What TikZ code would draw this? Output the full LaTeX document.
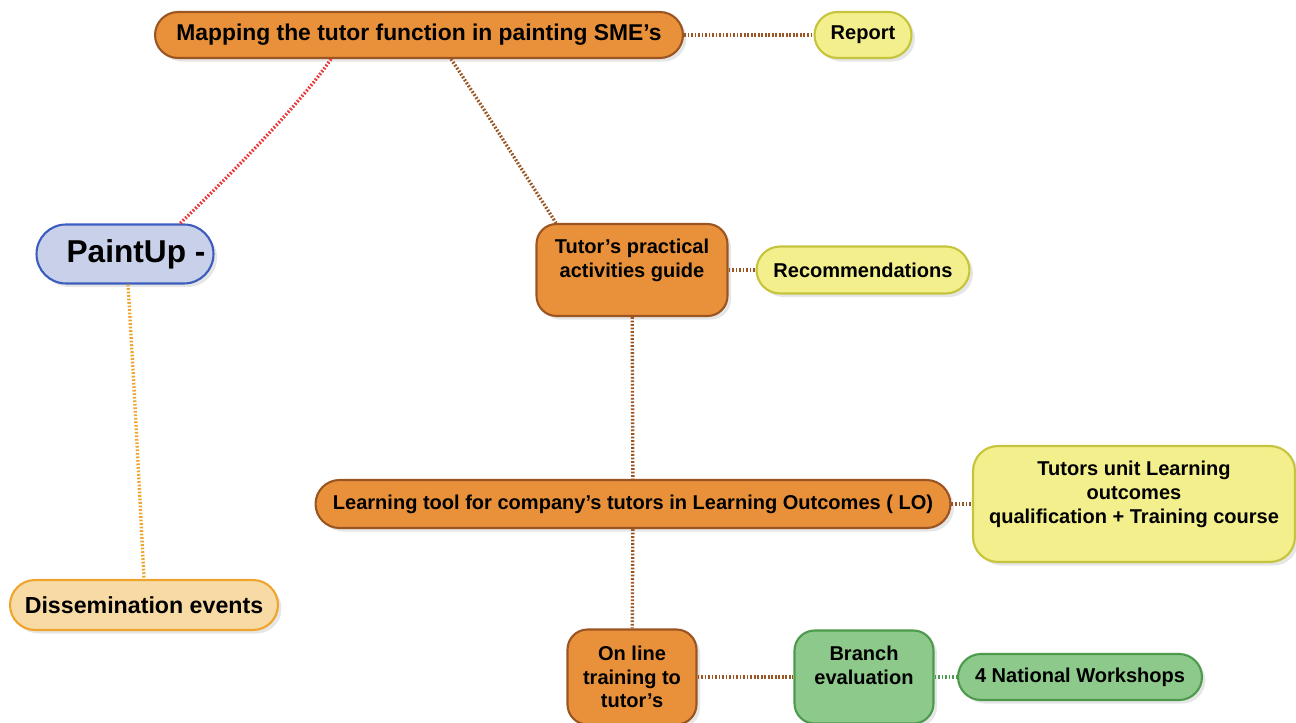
\documentclass[tikz,border=0pt]{standalone}
\usepackage{fontspec}
\setmainfont{Liberation Sans}
\usetikzlibrary{shadows}

\definecolor{orangefill}{HTML}{E8913A}
\definecolor{orangeline}{HTML}{9A5522}
\definecolor{yellowfill}{HTML}{F2EF8C}
\definecolor{yellowline}{HTML}{C6C43C}
\definecolor{greenfill}{HTML}{8DC98B}
\definecolor{greenline}{HTML}{4E9A4C}
\definecolor{bluefill}{HTML}{C8D0EA}
\definecolor{blueline}{HTML}{3D5DBE}
\definecolor{peachfill}{HTML}{F8DBA4}
\definecolor{peachline}{HTML}{EFA42E}
\definecolor{redlink}{HTML}{E8383A}

\begin{document}
\begin{tikzpicture}[x=0.02cm, y=-0.02cm, font=\fontsize{11.4}{13.4}\selectfont\bfseries]
    \tikzstyle{topic}=[draw, line width=1.2pt, align=center, inner sep=2pt,
        drop shadow={opacity=0.2, shadow xshift=2pt, shadow yshift=-2pt}]
    \tikzstyle{main topic}=[topic, fill=orangefill, draw=orangeline]
    \tikzstyle{note topic}=[topic, fill=yellowfill, draw=yellowline]
    \tikzstyle{green topic}=[topic, fill=greenfill, draw=greenline]
    \tikzstyle{link}=[line width=1.9pt, dash pattern=on 1pt off 1pt, draw=orangeline]
    \useasboundingbox (0,0) rectangle (1296,723);

    % Draw the central topic and its side branch
    \node[topic, fill=bluefill, draw=blueline, minimum width=3.54cm, minimum height=1.18cm,
        rounded corners=0.59cm, font=\fontsize{18}{21}\selectfont\bfseries] (paint) at (125,254) {\hspace*{0.44cm}PaintUp -};
    \node[topic, fill=peachfill, draw=peachline, minimum width=5.36cm, minimum height=1cm,
        rounded corners=0.5cm, font=\fontsize{13.2}{15}\selectfont\bfseries] (dissem) at (144,605) {Dissemination events};

    % Draw the main chain of orange topics
    \node[main topic, minimum width=10.56cm, minimum height=0.92cm, rounded corners=0.46cm,
        font=\fontsize{13}{15}\selectfont\bfseries] (map) at (419,35) {Mapping the tutor function in painting SME's};
    \node[main topic, minimum width=3.82cm, minimum height=1.84cm, rounded corners=0.4cm] (guide) at (632,270) {Tutor's practical\\activities guide\\ \mbox{}};
    \node[main topic, minimum width=12.7cm, minimum height=0.96cm, rounded corners=0.48cm] (tool) at (633,504) {Learning tool for company's tutors in Learning Outcomes ( LO)};
    \node[main topic, minimum width=2.58cm, minimum height=1.9cm, rounded corners=0.4cm] (online) at (632,677) {On line\\training to\\tutor's};

    % Draw the yellow notes
    \node[note topic, minimum width=1.94cm, minimum height=0.92cm, rounded corners=0.46cm] (report) at (863,35) {Report};
    \node[note topic, minimum width=4.26cm, minimum height=0.94cm, rounded corners=0.47cm] (recom) at (863,270) {Recommendations};
    \node[note topic, minimum width=6.44cm, minimum height=2.32cm, rounded corners=0.5cm] (unit) at (1134,504) {Tutors unit Learning\\outcomes\\qualification + Training course\\ \mbox{}};

    % Draw the green topics
    \node[green topic, minimum width=2.78cm, minimum height=1.86cm, rounded corners=0.4cm] (branch) at (864,677) {Branch\\evaluation\\ \mbox{}};
    \node[green topic, minimum width=4.88cm, minimum height=0.92cm, rounded corners=0.46cm] (work) at (1080,677) {4 National Workshops};

    % Connect the topics
    \draw[link, draw=redlink] (map.south west) ++(177,0) coordinate (m1)
        (m1) .. controls (300,105) and (220,185) .. (paint.north east -| 180,0);
    \draw[link] (map.south west) ++(297,0) coordinate (m2)
        (m2) .. controls (485,110) and (525,175) .. (guide.north west -| 556,0);
    \draw[link, draw=peachline] (paint.south -| 128,0) .. controls (135,400) and (140,500) .. (dissem.north);
    \draw[link] (map) -- (report);
    \draw[link] (guide) -- (recom);
    \draw[link] (guide) -- (tool);
    \draw[link] (tool) -- (unit);
    \draw[link] (tool) -- (online);
    \draw[link] (online) -- (branch);
    \draw[link, draw=greenline] (branch) -- (work);
\end{tikzpicture}
\end{document}
